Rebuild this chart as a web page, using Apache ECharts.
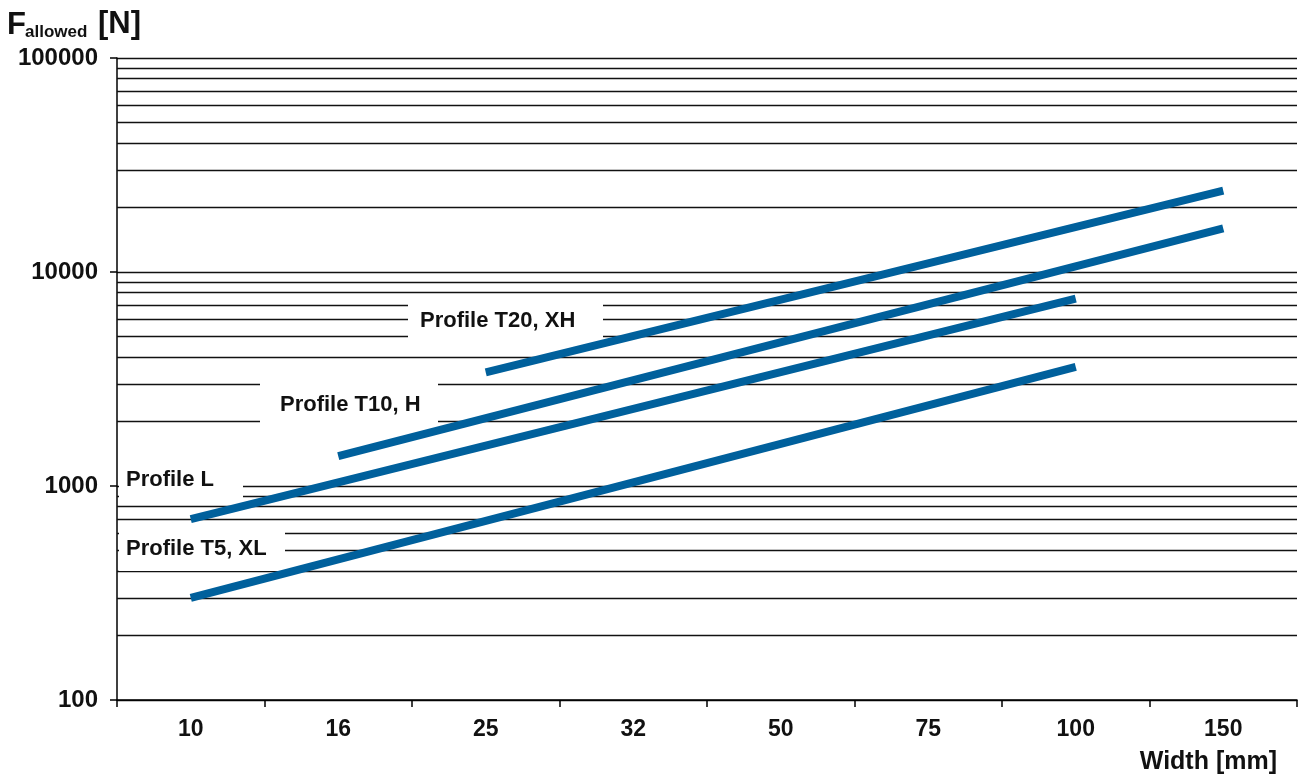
<!DOCTYPE html>
<html>
<head>
<meta charset="utf-8">
<script src="https://cdn.jsdelivr.net/npm/echarts@6/dist/echarts.min.js"></script>
<style>
  html, body { margin: 0; padding: 0; background: #fff; }
  #main { width: 1298px; height: 778px; }
</style>
</head>
<body>
<div id="main"></div>
<script>
// widths in mm (category axis)
let widths = ['10', '16', '25', '32', '50', '75', '100', '150']
// allowed force [N], start / end of each profile line
let profileT5 = [['10', 300], ['100', 3600]]
let profileL = [['10', 700], ['100', 7500]]
let profileT10 = [['16', 1380], ['150', 16000]]
let profileT20 = [['25', 3400], ['150', 24000]]
// minor grid lines of the log axis
let minorGrid = [200, 300, 400, 500, 600, 700, 800, 900,
  2000, 3000, 4000, 5000, 6000, 7000, 8000, 9000,
  20000, 30000, 40000, 50000, 60000, 70000, 80000, 90000]

let font = '"Liberation Sans", Arial, sans-serif'
let blue = '#00609c'

let chart = echarts.init(document.getElementById('main'))

function lineSeries(name, data) {
  return {
    name: name,
    type: 'line',
    data: data,
    symbol: 'none',
    z: 3,
    lineStyle: { color: blue, width: 8, cap: 'butt' }
  }
}

// label box: white rect behind the text so grid lines are hidden
function labelBox(text, x, y, w, h, tx) {
  return {
    type: 'group',
    children: [
      { type: 'rect', shape: { x: x, y: y, width: w, height: h }, style: { fill: '#fff' }, z: 2 },
      {
        type: 'text', x: tx, y: y + h / 2 + 1, z: 4,
        style: { text: text, fill: '#111', font: 'bold 22px ' + font, verticalAlign: 'middle' }
      }
    ]
  }
}

let option = {
  animation: false,
  backgroundColor: '#fff',
  grid: { left: 117, right: 1, top: 58, bottom: 78, containLabel: false },
  xAxis: {
    type: 'category',
    data: widths,
    boundaryGap: true,
    axisLine: { lineStyle: { color: '#000', width: 1.5 } },
    axisTick: { show: true, length: 7, lineStyle: { color: '#000', width: 1.5 } },
    axisLabel: { color: '#111', fontFamily: font, fontWeight: 'bold', fontSize: 23, margin: 18 },
    splitLine: { show: false }
  },
  yAxis: {
    type: 'log',
    logBase: 10,
    min: 100,
    max: 100000,
    axisLine: { show: true, lineStyle: { color: '#000', width: 1.5 } },
    axisTick: { show: true, length: 7, lineStyle: { color: '#000', width: 1.5 } },
    axisLabel: {
      color: '#111', fontFamily: font, fontWeight: 'bold', fontSize: 24, margin: 19,
      formatter: function (v) { return String(Math.round(v)) }
    },
    splitLine: { show: true, lineStyle: { color: '#111', width: 1.3 } }
  },
  series: [
    {
      name: 'grid',
      type: 'line',
      data: [],
      silent: true,
      markLine: {
        silent: true,
        z: 1,
        symbol: ['none', 'none'],
        label: { show: false },
        lineStyle: { color: '#111', width: 1.3, type: 'solid' },
        emphasis: { disabled: true },
        data: minorGrid.map(function (v) { return { yAxis: v } })
      }
    },
    lineSeries('Profile T5, XL', profileT5),
    lineSeries('Profile L', profileL),
    lineSeries('Profile T10, H', profileT10),
    lineSeries('Profile T20, XH', profileT20)
  ],
  graphic: {
    elements: [
      { type: 'text', x: 7, y: 25, z: 4, style: { text: 'F', fill: '#111', font: 'bold 31px ' + font, verticalAlign: 'middle' } },
      { type: 'text', x: 25, y: 32, z: 4, style: { text: 'allowed', fill: '#111', font: 'bold 17px ' + font, verticalAlign: 'middle' } },
      { type: 'text', x: 98, y: 24, z: 4, style: { text: '[N]', fill: '#111', font: 'bold 31px ' + font, verticalAlign: 'middle' } },
      { type: 'text', x: 1277, y: 762, z: 4, style: { text: 'Width [mm]', fill: '#111', font: 'bold 25px ' + font, align: 'right', verticalAlign: 'middle' } },
      labelBox('Profile T20, XH', 408, 297, 195, 46, 420),
      labelBox('Profile T10, H', 260, 381, 178, 45, 280),
      labelBox('Profile L', 119, 458, 124, 42, 126),
      labelBox('Profile T5, XL', 119, 525, 166, 46, 126)
    ]
  }
}

chart.setOption(option)
</script>
</body>
</html>
